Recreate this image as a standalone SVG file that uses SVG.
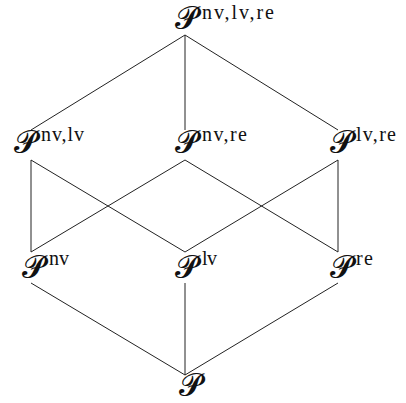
<svg xmlns="http://www.w3.org/2000/svg" width="406" height="403" viewBox="0 0 406 403">
<style>
.P{font-family:"DejaVu Serif","Noto Sans",serif;font-size:31px;fill:#111}
.s{font-family:"Liberation Serif",serif;font-size:20px;fill:#111}
.e{stroke:#222;stroke-width:1;fill:none}
</style>
<rect width="406" height="403" fill="#fff"/>
<g id="edges">
<path class="e" d="M185,35L31,130M185,35L185,130M185,35L338,130"/>
<path class="e" d="M31,160L31,252M31,160L185,252M185,160L31,252M185,160L338,252M338,160L185,252M338,160L338,252"/>
<path class="e" d="M31,283L185,375M185,283L185,375M338,283L185,375"/>
</g>
<g id="n_nv_lv_re"><text class="P" x="175" y="28">𝓟</text><text class="s" x="202" y="19" textLength="72" lengthAdjust="spacing">nv,lv,re</text></g>
<g id="n_nv_lv"><text class="P" x="14" y="152">𝓟</text><text class="s" x="41" y="141" textLength="43" lengthAdjust="spacing">nv,lv</text></g>
<g id="n_nv_re"><text class="P" x="175" y="152">𝓟</text><text class="s" x="202" y="141" textLength="45" lengthAdjust="spacing">nv,re</text></g>
<g id="n_lv_re"><text class="P" x="330" y="152">𝓟</text><text class="s" x="356" y="141" textLength="40" lengthAdjust="spacing">lv,re</text></g>
<g id="n_nv"><text class="P" x="22" y="277">𝓟</text><text class="s" x="49" y="265" textLength="20" lengthAdjust="spacing">nv</text></g>
<g id="n_lv"><text class="P" x="175" y="277">𝓟</text><text class="s" x="202" y="265" textLength="15" lengthAdjust="spacing">lv</text></g>
<g id="n_re"><text class="P" x="330" y="277">𝓟</text><text class="s" x="356" y="265" textLength="17" lengthAdjust="spacing">re</text></g>
<g id="n_empty"><text class="P" x="179" y="395">𝓟</text></g>
</svg>
